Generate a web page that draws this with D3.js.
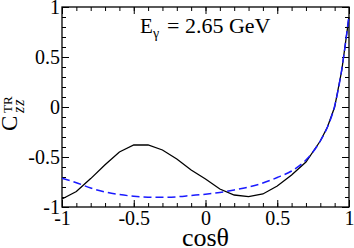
<!DOCTYPE html>
<html>
<head>
<meta charset="utf-8">
<script src="https://cdn.jsdelivr.net/npm/d3@7"></script>
<style>
  body { margin: 0; background: #fff; }
</style>
</head>
<body>
<script>
// cos(theta) sample points and the two curves
const cosTheta = [-1, -0.9, -0.8, -0.7, -0.6, -0.5, -0.4, -0.3, -0.2, -0.1, 0, 0.1, 0.2, 0.3, 0.4, 0.5, 0.6, 0.7, 0.8, 0.85, 0.9, 0.95, 1];
const solidVals = [-0.92, -0.845, -0.716, -0.577, -0.45, -0.38, -0.38, -0.43, -0.52, -0.63, -0.72, -0.82, -0.88, -0.897, -0.87, -0.79, -0.68, -0.55, -0.34, -0.2, 0.0, 0.37, 0.9];
const dashedVals = [-0.713, -0.757, -0.81, -0.85, -0.875, -0.893, -0.902, -0.903, -0.898, -0.885, -0.872, -0.855, -0.83, -0.8, -0.76, -0.705, -0.64, -0.53, -0.34, -0.2, 0.01, 0.38, 0.92];

const majorTicks = [-1, -0.5, 0, 0.5, 1];
const xTickLabels = ["-1", "-0.5", "0", "0.5", "1"];
const yTickLabels = ["-1", "-0.5", "0", "0.5", "1"];

const width = 354, height = 248;
const plotL = 62, plotR = 349, plotT = 7, plotB = 207;
const serif = '"Liberation Serif"';

const svg = d3.select("body").append("svg")
    .attr("width", width).attr("height", height);

const x = d3.scaleLinear().domain([-1, 1]).range([plotL, plotR]);
const y = d3.scaleLinear().domain([-1, 1]).range([plotB, plotT]);

const minorTicks = d3.range(-10, 11).map(d => d / 10);

// ticks all around, pointing inward
function tickAxis(axisFn, scale, transform, labels) {
    const g = svg.append("g").attr("transform", transform);
    g.append("g").call(axisFn(scale).tickValues(minorTicks).tickSize(-4).tickFormat(""));
    g.append("g")
        .call(axisFn(scale).tickValues(majorTicks).tickSize(-7).tickFormat((d, i) => labels ? labels[i] : ""));
    g.selectAll("path.domain").remove();
    g.selectAll("line").attr("stroke", "#000").attr("stroke-width", 1);
    g.selectAll("text").style("font-family", serif).style("font-size", "20px").attr("fill", "#000");
    return g;
}

const gb = tickAxis(d3.axisBottom, x, `translate(0,${plotB})`, xTickLabels);
gb.selectAll("text").attr("y", 4).attr("dy", "0.71em");
tickAxis(d3.axisTop, x, `translate(0,${plotT})`, null);
const gl = tickAxis(d3.axisLeft, y, `translate(${plotL},0)`, yTickLabels);
gl.selectAll("text").attr("x", -2).attr("dy", "0.34em");
tickAxis(d3.axisRight, y, `translate(${plotR},0)`, null);

svg.append("rect")
    .attr("x", plotL).attr("y", plotT)
    .attr("width", plotR - plotL).attr("height", plotB - plotT)
    .attr("fill", "none").attr("stroke", "#000").attr("stroke-width", 1.3);

const solid = cosTheta.map((c, i) => [c, solidVals[i]]);
const dashed = cosTheta.map((c, i) => [c, dashedVals[i]]);

const line = d3.line().x(d => x(d[0])).y(d => y(d[1]));

svg.append("path").datum(solid)
    .attr("d", line)
    .attr("fill", "none").attr("stroke", "#000").attr("stroke-width", 1.3);

svg.append("path").datum(dashed)
    .attr("d", line.curve(d3.curveMonotoneX))
    .attr("fill", "none").attr("stroke", "#1a1aff").attr("stroke-width", 1.5)
    .attr("stroke-dasharray", "8,4");

// axis titles
svg.append("text")
    .attr("x", (plotL + plotR) / 2).attr("y", 246)
    .attr("text-anchor", "middle")
    .style("font-family", serif).style("font-size", "26px")
    .text("cosθ");

const yl = svg.append("text")
    .attr("transform", "translate(17,131) rotate(-90)")
    .style("font-family", serif).style("font-size", "23px");
yl.append("tspan").attr("x", 0).attr("y", 0).text("C");
yl.append("tspan").attr("x", 18).attr("y", -5).style("font-size", "13px").text("TR");
yl.append("tspan").attr("x", 18).attr("y", 7).style("font-size", "16px")
    .style("font-style", "italic").style("letter-spacing", "1px").text("zz");

const ann = svg.append("text")
    .attr("x", 140).attr("y", 33)
    .style("font-family", serif).style("font-size", "21px");
ann.append("tspan").text("E");
ann.append("tspan").attr("x", 153).attr("y", 38).style("font-size", "14px").text("γ");
ann.append("tspan").attr("x", 167).attr("y", 33).style("font-size", "22px").text("= 2.65 GeV");
</script>
</body>
</html>
